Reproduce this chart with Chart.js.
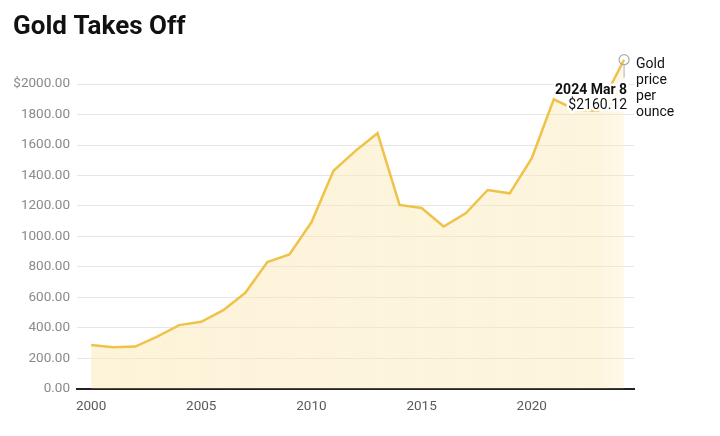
<!DOCTYPE html>
<html lang="en">

<head>
    <meta charset="UTF-8">
    <title>Gold Takes Off</title>
    <script src="https://cdn.jsdelivr.net/npm/chart.js"></script>
    <style>
        body {
            margin: 0;
            background: #ffffff;
        }
    </style>
</head>

<body>
    <canvas id="goldChart" width="720" height="436"></canvas>

    <script>
        // yearly points, the last one is 2024 Mar 8
        const years = [2000, 2001, 2002, 2003, 2004, 2005, 2006, 2007, 2008, 2009, 2010, 2011,
            2012, 2013, 2014, 2015, 2016, 2017, 2018, 2019, 2020, 2021, 2022, 2023, 2024.19];
        const prices = [288, 272, 277, 342, 418, 440, 516, 630, 832, 882, 1093, 1431,
            1562, 1678, 1207, 1187, 1065, 1152, 1305, 1283, 1514, 1900, 1830, 1826, 2160.12];
        const xTickValues = [2000, 2005, 2010, 2015, 2020];
        const yTickValues = [0, 200, 400, 600, 800, 1000, 1200, 1400, 1600, 1800, 2000];
        const lastLabel = ['2024 Mar 8', '$2160.12'];
        const seriesLabel = ['Gold', 'price', 'per', 'ounce'];

        const goldLine = '#efc24a';

        // labels next to the last point
        const endLabel = {
            id: 'endLabel',
            afterDatasetsDraw(chart) {
                const pt = chart.getDatasetMeta(0).data[prices.length - 1];
                const ctx = chart.ctx;
                ctx.save();
                // small leader under the marker
                ctx.strokeStyle = '#b0b0b0';
                ctx.lineWidth = 1;
                ctx.beginPath();
                ctx.moveTo(pt.x, pt.y + 5);
                ctx.lineTo(pt.x, pt.y + 18);
                ctx.stroke();

                ctx.textAlign = 'right';
                ctx.textBaseline = 'alphabetic';
                ctx.lineJoin = 'round';
                ctx.strokeStyle = '#ffffff';
                ctx.lineWidth = 5;
                ctx.fillStyle = '#111111';
                ctx.font = 'bold 14px Roboto';
                ctx.strokeText(lastLabel[0], pt.x + 3, pt.y + 34);
                ctx.fillText(lastLabel[0], pt.x + 3, pt.y + 34);
                ctx.font = '14px Roboto';
                ctx.strokeText(lastLabel[1], pt.x + 3, pt.y + 49);
                ctx.fillText(lastLabel[1], pt.x + 3, pt.y + 49);

                ctx.textAlign = 'left';
                seriesLabel.forEach((s, i) => {
                    ctx.fillText(s, pt.x + 12, pt.y + 8 + i * 16);
                });
                ctx.restore();
            }
        };

        const ctx = document.getElementById('goldChart').getContext('2d');

        new Chart(ctx, {
            type: 'line',
            data: {
                datasets: [{
                    data: years.map((y, i) => ({ x: y, y: prices[i] })),
                    borderColor: goldLine,
                    borderWidth: 2.5,
                    tension: 0,
                    fill: 'origin',
                    backgroundColor: (c) => {
                        const area = c.chart.chartArea;
                        if (!area) return 'rgba(250, 232, 180, 0.5)';
                        const g = c.chart.ctx.createLinearGradient(area.left, 0, area.right, 0);
                        g.addColorStop(0, 'rgba(250, 232, 180, 0.5)');
                        g.addColorStop(0.93, 'rgba(250, 232, 180, 0.45)');
                        g.addColorStop(0.98, 'rgba(250, 232, 180, 0.3)');
                        return g;
                    },
                    pointRadius: (c) => c.dataIndex === prices.length - 1 ? 5 : 0,
                    pointHoverRadius: 0,
                    pointBorderColor: '#aaaaaa',
                    pointBorderWidth: 1.2,
                    pointBackgroundColor: 'rgba(255,255,255,0)',
                    clip: false
                }]
            },
            options: {
                responsive: false,
                animation: false,
                layout: {
                    padding: { left: 13, right: 86, bottom: 11 }
                },
                plugins: {
                    legend: { display: false },
                    tooltip: { enabled: false },
                    title: {
                        display: true,
                        text: 'Gold Takes Off',
                        align: 'start',
                        color: '#111111',
                        font: { family: 'Roboto', size: 26, weight: 'bold' },
                        padding: { top: 12, bottom: 15 }
                    }
                },
                scales: {
                    x: {
                        type: 'linear',
                        min: 1999.36,
                        max: 2024.64,
                        afterBuildTicks: (s) => {
                            s.ticks = xTickValues.map(v => ({ value: v }));
                        },
                        ticks: {
                            color: '#5a5a5a',
                            font: { family: 'Roboto', size: 13.5 },
                            padding: 10,
                            maxRotation: 0,
                            callback: (v) => String(v)
                        },
                        grid: { display: false, drawTicks: false },
                        border: { display: true, color: '#222222', width: 2 }
                    },
                    y: {
                        min: 0,
                        max: 2170,
                        afterBuildTicks: (s) => {
                            s.ticks = yTickValues.map(v => ({ value: v }));
                        },
                        afterFit: (s) => { s.width = 64; },
                        ticks: {
                            color: '#8a8a8a',
                            font: { family: 'Roboto', size: 13.5 },
                            padding: 7,
                            callback: (v) => (v === 2000 ? '$' : '') + Number(v).toFixed(2)
                        },
                        grid: { color: '#e6e6e6', drawTicks: false },
                        border: { display: false }
                    }
                }
            },
            plugins: [endLabel]
        });
    </script>
</body>

</html>
